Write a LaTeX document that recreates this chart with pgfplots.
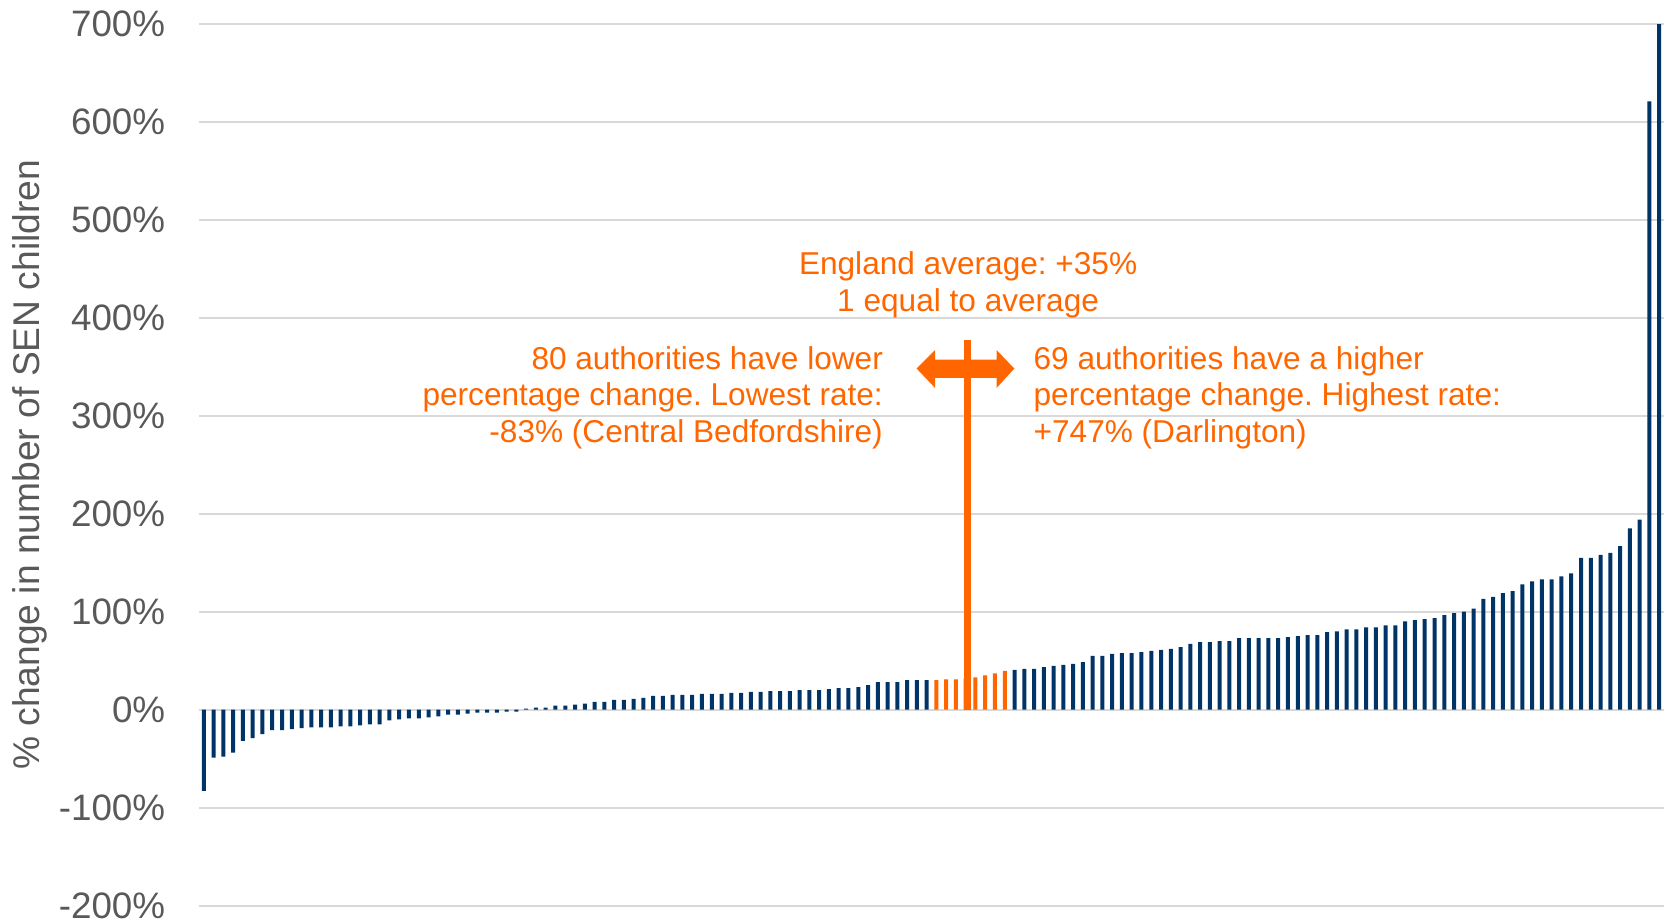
\documentclass[border=0pt]{standalone}
\usepackage{fontspec}
\setmainfont{Liberation Sans}
\usepackage{pgfplots}
\usepackage{pgfplotstable}
\pgfplotsset{compat=1.18}
\definecolor{navy}{HTML}{003366}
\definecolor{orng}{HTML}{FF6600}
\definecolor{gridc}{HTML}{D9D9D9}
\definecolor{tickc}{HTML}{595959}
\frenchspacing

\pgfplotstableread{
x y
1 -83
2 -49
3 -48
4 -44
5 -32
6 -29
7 -25
8 -21
9 -21
10 -20
11 -19
12 -18
13 -18
14 -18
15 -17
16 -17
17 -16
18 -15
19 -15
20 -11
21 -10
22 -9
23 -9
24 -8
25 -7
26 -5
27 -5
28 -4
29 -3
30 -3
31 -3
32 -2
33 -2
34 1
35 2
36 2
37 4
38 4
39 5
40 6
41 8
42 8
43 10
44 10
45 11
46 12
47 14
48 14
49 15
50 15
51 15
52 16
53 16
54 16
55 17
56 17
57 18
58 18
59 19
60 19
61 19
62 20
63 20
64 20
65 21
66 22
67 22
68 23
69 25
70 28
71 28
72 28
73 30
74 30
75 30
}\lowtab

\pgfplotstableread{
x y
76 30
77 31
78 31
79 32
80 33
81 35
82 37
83 39.5
}\midtab

\pgfplotstableread{
x y
84 40.5
85 41.5
86 41.5
87 43.5
88 44.6
89 45.6
90 46.6
91 48.6
92 54.8
93 54.8
94 56.8
95 57.8
96 57.8
97 58.8
98 59.9
99 60.9
100 61.9
101 63.9
102 67
103 69
104 69
105 70
106 70
107 73
108 73
109 73
110 73
111 73
112 74
113 75
114 76
115 76
116 79
117 80
118 82
119 82
120 84
121 84
122 86
123 86
124 90
125 91.5
126 92.5
127 93.5
128 96.6
129 98.6
130 100
131 103
132 113
133 115
134 119
135 121
136 128
137 131
138 133
139 133
140 136
141 139
142 155
143 155
144 158
145 160
146 167
147 185
148 194
149 621
150 747
}\hightab

\begin{document}
\begin{tikzpicture}
\begin{axis}[
  at={(0,0)}, anchor=south west,
  scale only axis, width=732.5pt, height=440.75pt,
  xmin=0.5, xmax=150.5, ymin=-200, ymax=700,
  xtick=\empty,
  ytick={-200,-100,0,100,200,300,400,500,600,700},
  yticklabels={{-200\%},{-100\%},{0\%},{100\%},{200\%},{300\%},{400\%},{500\%},{600\%},{700\%}},
  axis line style={draw=none},
  ymajorgrids, grid style={gridc, line width=1pt},
  major tick length=0pt,
  yticklabel style={font=\fontsize{18.4}{22}\selectfont, text=tickc, anchor=east, inner sep=0pt, xshift=-16.7pt},
  ylabel={\% change in number of SEN children},
  every axis y label/.style={at={(axis description cs:-0.1152,0.5)}, rotate=90, anchor=center,
    font=\fontsize{18.6}{22}\selectfont, text=tickc},
]
\addplot[ybar, bar shift=0pt, bar width=2pt, fill=navy, draw=none] table[x=x,y=y] {\lowtab};
\addplot[ybar, bar shift=0pt, bar width=2pt, fill=orng, draw=none] table[x=x,y=y] {\midtab};
\addplot[ybar, bar shift=0pt, bar width=2pt, fill=navy, draw=none] table[x=x,y=y] {\hightab};

\draw[orng, line width=3.65pt] (axis cs:79.2,0) -- (axis cs:79.2,377.5);
\fill[orng] (axis cs:73.98,348.2) -- (axis cs:75.86,367.0) -- (axis cs:75.86,357.4)
  -- (axis cs:82.17,357.4) -- (axis cs:82.17,367.0) -- (axis cs:83.98,348.2)
  -- (axis cs:82.17,328.5) -- (axis cs:82.17,338.7) -- (axis cs:75.86,338.7)
  -- (axis cs:75.86,328.5) -- cycle;

\begin{scope}[every node/.style={text=orng, inner sep=0pt, font=\fontsize{15.8}{19}\selectfont}]
\node[anchor=base] at (axis cs:79.25,444.4) {England average: +35\%};
\node[anchor=base] at (axis cs:79.25,406.8) {1 equal to average};
\node[anchor=base east] at (axis cs:70.56,347.5) {80 authorities have lower};
\node[anchor=base east] at (axis cs:70.56,310.5) {percentage change. Lowest rate:};
\node[anchor=base east] at (axis cs:70.56,272.5) {-83\% (Central Bedfordshire)};
\node[anchor=base west] at (axis cs:85.92,347.5) {69 authorities have a higher};
\node[anchor=base west] at (axis cs:85.92,310.5) {percentage change. Highest rate:};
\node[anchor=base west] at (axis cs:85.92,272.5) {+747\% (Darlington)};
\end{scope}
\end{axis}
\pgfresetboundingbox
\path (-99.5pt,-8.75pt) rectangle (735pt,452.75pt);
\end{tikzpicture}
\end{document}
